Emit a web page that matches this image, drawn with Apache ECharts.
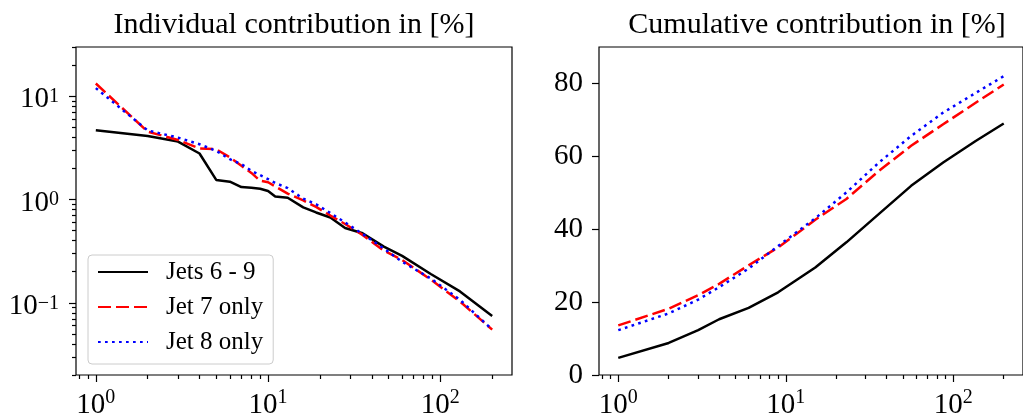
<!DOCTYPE html>
<html>
<head>
<meta charset="utf-8">
<script src="https://cdn.jsdelivr.net/npm/echarts@6/dist/echarts.min.js"></script>
<style>
  html, body { margin: 0; padding: 0; background: #fff; }
  #chart { width: 1023px; height: 420px; }
</style>
</head>
<body>
<div id="chart"></div>
<script>
// rank of the term (x) for the individual contribution panel
const rankX = [1, 2, 3, 4, 5, 6, 7, 8, 9, 10, 11, 13, 16, 19, 23, 28, 35, 47, 60, 88, 130, 200];
const indJets69 = [4.7, 4.12, 3.64, 2.79, 1.55, 1.49, 1.32, 1.30, 1.27, 1.21, 1.07, 1.04, 0.84, 0.75, 0.67, 0.53, 0.475, 0.35, 0.285, 0.19, 0.129, 0.0745];
const indJet7 = [13.3, 4.55, 3.77, 3.12, 3.07, 2.56, 2.12, 1.81, 1.52, 1.47, 1.34, 1.14, 0.98, 0.85, 0.70, 0.58, 0.46, 0.32, 0.26, 0.168, 0.103, 0.055];
const indJet8 = [12.0, 4.67, 3.98, 3.43, 2.96, 2.46, 2.2, 1.9, 1.72, 1.58, 1.45, 1.29, 1.02, 0.9, 0.74, 0.6, 0.47, 0.335, 0.25, 0.172, 0.107, 0.055];

// cumulative contribution panel
const cumX = [1, 2, 3, 4, 6, 9, 15, 23, 36, 56, 87, 136, 200];
const cumJets69 = [4.7, 8.8, 12.3, 15.3, 18.4, 22.7, 29.5, 36.4, 44.2, 51.9, 58.3, 64.2, 69.0];
const cumJet7 = [13.6, 18.2, 21.9, 25.0, 30.1, 35.0, 42.6, 48.3, 56.0, 62.9, 68.8, 74.7, 79.7];
const cumJet8 = [12.3, 16.9, 20.7, 24.1, 29.2, 35.4, 43.0, 50.1, 58.3, 65.6, 72.0, 77.4, 82.0];

const seriesNames = ['Jets 6 - 9', 'Jet 7 only', 'Jet 8 only'];

// tick values
const xMajor = [1, 10, 100];
const xMinor = [0.8, 0.9, 2, 3, 4, 5, 6, 7, 8, 9, 20, 30, 40, 50, 60, 70, 80, 90, 200];
const yLogMajor = [0.1, 1, 10];
const yLogMinor = [0.02, 0.03, 0.04, 0.05, 0.06, 0.07, 0.08, 0.09, 0.2, 0.3, 0.4, 0.5, 0.6, 0.7, 0.8, 0.9, 2, 3, 4, 5, 6, 7, 8, 9, 20, 30];
const yLinTicks = [0, 20, 40, 60, 80];
const yLogRange = [0.02, 30];
const yLinRange = [0, 90];

const FONT = 'Liberation Serif';

// x limits like matplotlib: 5% margin in log space
const lx0 = Math.log10(rankX[0]), lx1 = Math.log10(rankX[rankX.length - 1]);
const xMin = Math.pow(10, lx0 - 0.05 * (lx1 - lx0));
const xMax = Math.pow(10, lx1 + 0.05 * (lx1 - lx0));

function logFmt(v) {
  const e = Math.round(Math.log10(v));
  return '{b|10}{s|' + (e < 0 ? '\u2212' + (-e) : e) + '}';
}
function mkRich(lh) {
  return {
    b: { fontSize: 29, fontFamily: FONT, color: '#000', lineHeight: lh },
    s: { fontSize: 20, fontFamily: FONT, color: '#000', lineHeight: 12, verticalAlign: 'top' }
  };
}
const tickStyle = { color: '#000', width: 1.2 };

function logXAxes(grid) {
  return [{
    type: 'log', gridIndex: grid, position: 'bottom', min: xMin, max: xMax, logBase: 10,
    axisLine: { show: false, onZero: false },
    axisTick: { customValues: xMajor, length: 7, lineStyle: tickStyle },
    axisLabel: { customValues: xMajor, formatter: logFmt, rich: mkRich(35), margin: 13 },
    splitLine: { show: false }
  }, {
    type: 'log', gridIndex: grid, position: 'bottom', min: xMin, max: xMax, logBase: 10,
    axisLine: { show: false, onZero: false },
    axisTick: { customValues: xMinor, length: 4, lineStyle: tickStyle },
    axisLabel: { show: false },
    splitLine: { show: false }
  }];
}

const lineStyles = [
  { color: '#000000', width: 2.5, type: 'solid' },
  { color: '#ff0000', width: 2.5, type: [13, 5] },
  { color: '#0000ff', width: 2.5, type: [2.7, 4.3], cap: 'butt' }
];

function mkSeries(xs, ys, name, k, xi, yi) {
  return {
    type: 'line', name: name, xAxisIndex: xi, yAxisIndex: yi,
    data: xs.map((x, i) => [x, ys[i]]),
    symbol: 'none', lineStyle: lineStyles[k], itemStyle: { color: lineStyles[k].color },
    z: 2 + k
  };
}

const chart = echarts.init(document.getElementById('chart'), null, { renderer: 'canvas' });
chart.setOption({
  animation: false,
  backgroundColor: '#fff',
  textStyle: { fontFamily: FONT },
  title: [
    { text: 'Individual contribution in [%]', left: 294, top: 10, textAlign: 'center', padding: 0,
      textStyle: { fontFamily: FONT, fontWeight: 'normal', fontSize: 30, color: '#000' } },
    { text: 'Cumulative contribution in [%]', left: 817, top: 10, textAlign: 'center', padding: 0,
      textStyle: { fontFamily: FONT, fontWeight: 'normal', fontSize: 30, color: '#000' } }
  ],
  grid: [
    { left: 76, top: 47, width: 436, height: 330, show: true, borderColor: '#000', borderWidth: 1.2, backgroundColor: 'transparent' },
    { left: 599, top: 47, width: 436, height: 330, show: true, borderColor: '#000', borderWidth: 1.2, backgroundColor: 'transparent' }
  ],
  xAxis: logXAxes(0).concat(logXAxes(1)),
  yAxis: [{
    type: 'log', gridIndex: 0, position: 'left', min: yLogRange[0], max: yLogRange[1], logBase: 10,
    axisLine: { show: false, onZero: false },
    axisTick: { customValues: yLogMajor, length: 7, lineStyle: tickStyle },
    axisLabel: { customValues: yLogMajor, formatter: logFmt, rich: mkRich(26), margin: 17, padding: [7, 0, 0, 0] },
    splitLine: { show: false }
  }, {
    type: 'log', gridIndex: 0, position: 'left', min: yLogRange[0], max: yLogRange[1], logBase: 10,
    axisLine: { show: false, onZero: false },
    axisTick: { customValues: yLogMinor, length: 4, lineStyle: tickStyle },
    axisLabel: { show: false },
    splitLine: { show: false }
  }, {
    type: 'value', gridIndex: 1, position: 'left', min: yLinRange[0], max: yLinRange[1],
    axisLine: { show: false, onZero: false },
    axisTick: { customValues: yLinTicks, length: 7, lineStyle: tickStyle },
    axisLabel: { customValues: yLinTicks, fontSize: 29, fontFamily: FONT, color: '#000', margin: 16 },
    splitLine: { show: false }
  }],
  legend: {
    data: seriesNames,
    orient: 'vertical', left: 88, top: 255,
    padding: [3, 10, 8, 9], itemGap: 7, itemWidth: 50, itemHeight: 14,
    itemStyle: { opacity: 0 },
    backgroundColor: 'rgba(255,255,255,0.8)', borderColor: '#cccccc', borderWidth: 1, borderRadius: 4,
    textStyle: { fontFamily: FONT, fontSize: 25, color: '#000', lineHeight: 28, padding: [0, 0, 0, 13] },
    selectedMode: false
  },
  series: [
    mkSeries(rankX, indJets69, seriesNames[0], 0, 0, 0),
    mkSeries(rankX, indJet7, seriesNames[1], 1, 0, 0),
    mkSeries(rankX, indJet8, seriesNames[2], 2, 0, 0),
    mkSeries(cumX, cumJets69, seriesNames[0], 0, 2, 2),
    mkSeries(cumX, cumJet7, seriesNames[1], 1, 2, 2),
    mkSeries(cumX, cumJet8, seriesNames[2], 2, 2, 2)
  ]
});
</script>
</body>
</html>
